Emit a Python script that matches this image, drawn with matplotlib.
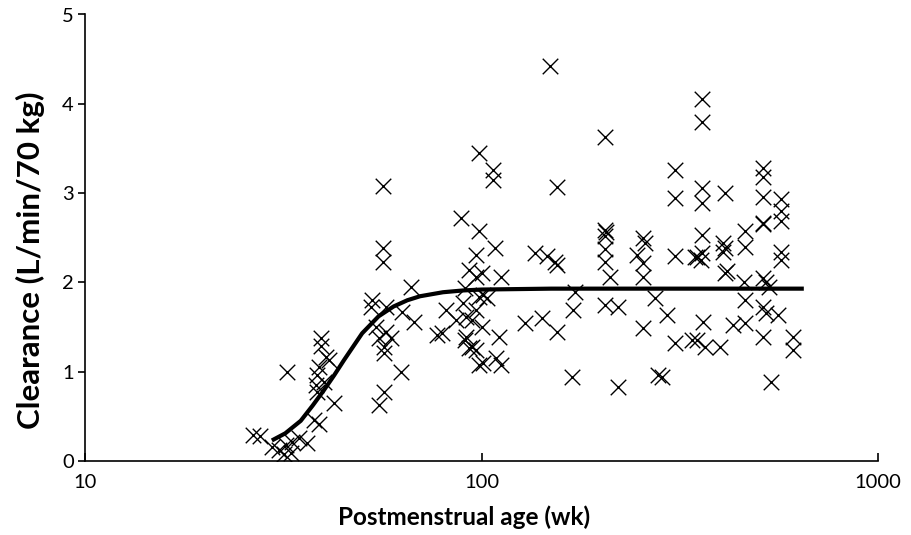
import matplotlib
matplotlib.use("Agg")
import matplotlib.pyplot as plt

# Observed clearance data (postmenstrual age in weeks, clearance L/min/70 kg)
pma = [26.6, 27.7, 29.6, 30.8, 31.7, 32.1, 33.0, 33.2, 34.6, 36.3,
       32.3, 37.8, 38.9, 42.5, 39.3, 39.3, 40.5, 41.2, 38.9, 38.5,
       38.2, 40.0, 38.5,
       53.0, 52.7, 57.5, 63.1, 66.5, 67.7, 54.2, 55.2, 57.5, 59.2,
       56.8, 56.8, 62.7, 56.8, 55.2, 56.5, 56.5, 56.5, 81.5, 77.4,
       89.0, 98.8, 97.1, 86.4, 90.0, 91.6, 94.9, 91.6, 93.2, 97.1,
       98.8, 97.1, 93.2, 98.8, 79.7, 90.6, 94.9, 100.0, 100.6, 103.0,
       109.1, 112.3, 111.0, 112.3, 100.0, 91.1, 107.9, 98.8, 106.6, 106.6,
       100.6, 97.1,
       148.7, 204.8, 154.9, 136.2, 146.1, 153.0, 154.9, 128.5, 141.9, 154.9,
       169.0, 170.0, 172.0, 204.8, 206.0, 204.8, 204.8, 204.8, 211.0, 204.8,
       221.0, 221.0, 255.6, 258.6, 246.9, 255.6, 255.6, 274.0, 255.6, 279.0,
       285.5, 294.0, 308.0, 308.0, 308.0, 308.0, 340.0, 350.0,
       360.6, 360.6, 360.6, 360.6, 412.0, 511.6, 511.6, 511.6, 568.0, 568.0,
       511.6, 514.0, 568.0, 463.0, 463.0, 407.5, 412.0, 407.5, 360.6, 360.6,
       358.4, 346.0, 568.0, 568.0, 412.0, 415.0, 458.0, 511.6, 520.6, 529.8,
       463.0, 511.6, 520.6, 558.0, 362.6, 432.0, 463.0, 514.0, 609.0, 609.0,
       350.0, 367.0, 400.0, 536.0]
clearance = [0.29, 0.28, 0.16, 0.12, 0.08, 0.18, 0.09, 0.21, 0.26, 0.20,
             1.00, 0.46, 0.41, 0.65, 1.38, 1.29, 1.17, 1.13, 1.05, 0.96,
             0.85, 0.89, 0.77,
             1.80, 1.72, 1.72, 1.67, 1.95, 1.56, 1.50, 1.38, 1.45, 1.38,
             1.28, 1.21, 1.00, 0.77, 0.63, 3.08, 2.39, 2.23, 1.69, 1.41,
             2.72, 2.58, 2.31, 1.58, 1.77, 1.61, 1.58, 1.39, 1.27, 1.24,
             1.08, 2.06, 2.14, 1.84, 1.43, 1.36, 1.28, 1.50, 1.86, 1.83,
             1.15, 1.08, 1.39, 2.06, 2.11, 1.94, 2.39, 3.45, 3.26, 3.15,
             1.10, 1.69,
             4.42, 3.63, 3.07, 2.33, 2.30, 2.23, 2.20, 1.55, 1.60, 1.45,
             0.94, 1.69, 1.89, 2.59, 2.56, 2.52, 2.37, 2.23, 2.06, 1.75,
             1.73, 0.83, 2.50, 2.44, 2.31, 2.22, 2.06, 1.83, 1.49, 0.96,
             0.94, 1.64, 2.95, 3.26, 2.30, 1.32, 1.36, 2.29,
             4.05, 3.80, 3.06, 2.89, 3.00, 3.28, 3.18, 2.96, 2.93, 2.80,
             2.67, 2.65, 2.69, 2.57, 2.40, 2.44, 2.39, 2.34, 2.53, 2.33,
             2.25, 2.29, 2.34, 2.25, 2.11, 2.13, 2.00, 2.05, 2.00, 1.95,
             1.80, 1.73, 1.66, 1.64, 1.56, 1.52, 1.55, 1.39, 1.39, 1.24,
             1.36, 1.28, 1.28, 0.89]

# Model (maturation) curve
curve_pma = [29.6, 32, 35, 37.5, 40, 42.5, 45, 50, 55, 60, 65, 70,
             80, 90, 100, 150, 300, 650]
curve_cl = [0.23, 0.31, 0.45, 0.62, 0.79, 0.96, 1.13, 1.43, 1.62, 1.73,
            1.80, 1.845, 1.89, 1.91, 1.92, 1.93, 1.93, 1.93]

xticks = [10, 100, 1000]
xtick_labels = ["10", "100", "1000"]
yticks = [0, 1, 2, 3, 4, 5]

plt.rcParams['font.family'] = ['Lato', 'DejaVu Sans']

fig = plt.figure(figsize=(9.11, 5.35), dpi=100)
ax = fig.add_axes([85 / 911, 74 / 535, 793 / 911, 446.5 / 535])

ax.scatter(pma, clearance, marker='x', s=125, linewidths=1.0,
           color='black', zorder=2)
ax.plot(curve_pma, curve_cl, color='black', linewidth=3.0,
        solid_capstyle='butt', zorder=3)

ax.set_xscale('log')
ax.set_xlim(10, 1000)
ax.set_ylim(0, 5)
ax.set_xticks(xticks)
ax.set_xticklabels(xtick_labels)
ax.minorticks_off()
ax.set_yticks(yticks)

for s in ['top', 'right']:
    ax.spines[s].set_visible(False)
for s in ['left', 'bottom']:
    ax.spines[s].set_linewidth(1.2)
    ax.spines[s].set_color('black')

ax.tick_params(axis='y', direction='out', length=5, width=1.2,
               labelsize=14.5, pad=3)
ax.tick_params(axis='x', direction='in', length=6, width=1.2,
               labelsize=14.5, pad=9)

ax.set_xlabel('Postmenstrual age (wk)', fontsize=17.5, fontweight='bold')
ax.xaxis.set_label_coords(0.478, -0.100)
ax.set_ylabel('Clearance (L/min/70 kg)', fontsize=22.5, fontweight='bold')
ax.yaxis.set_label_coords(-0.050, 0.45)

fig.savefig('out.png', dpi=100)
